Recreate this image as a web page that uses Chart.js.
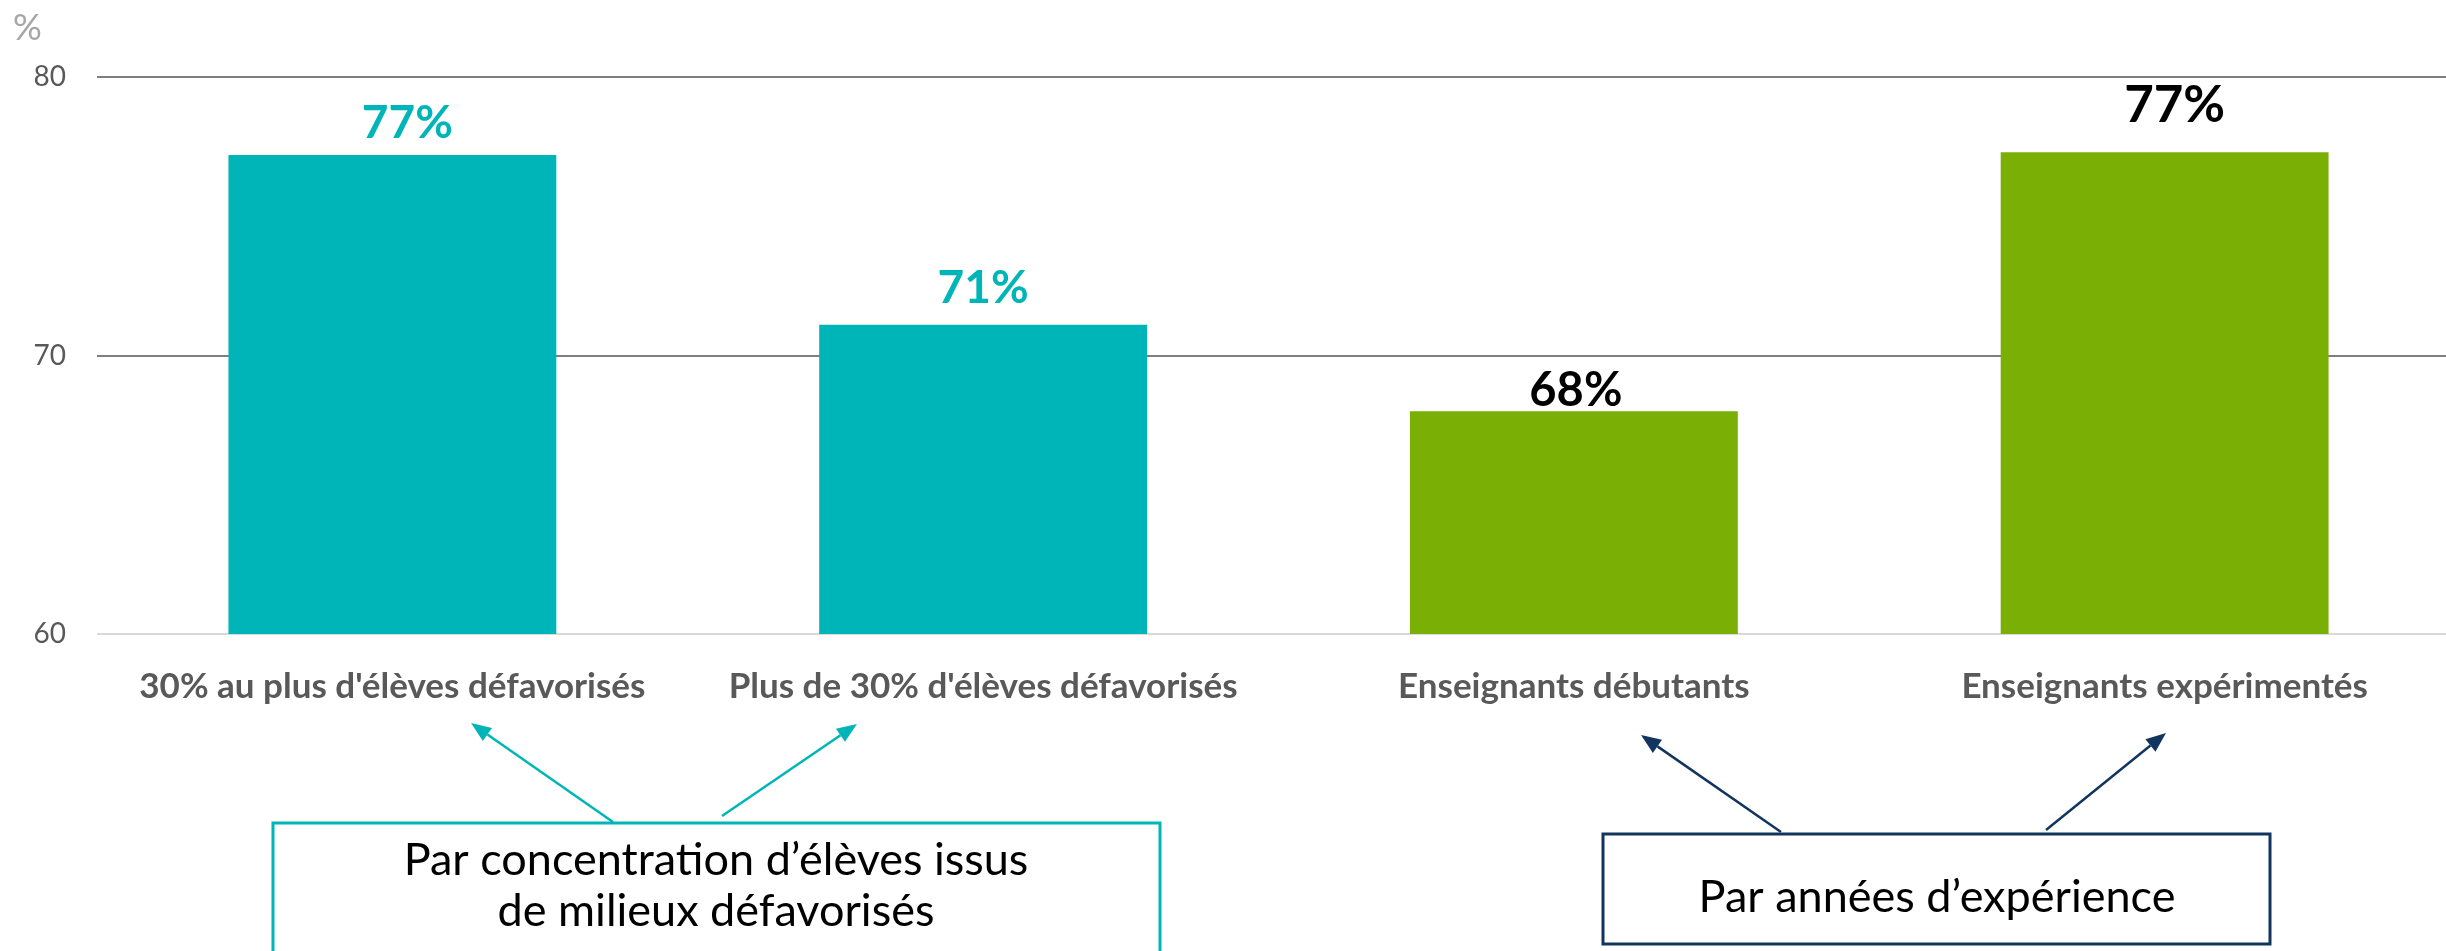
<!DOCTYPE html>
<html><head><meta charset="utf-8">
<script src="https://cdn.jsdelivr.net/npm/chart.js@4.4.1/dist/chart.umd.min.js"></script>
<style>
html,body{margin:0;padding:0;background:#fff;overflow:hidden;}
#wrap{position:relative;width:2460px;height:951px;}
</style></head>
<body><div id="wrap"><canvas id="c" width="2460" height="951"></canvas></div>
<script>
// ---- data ----
const categories = ["30% au plus d'élèves défavorisés", "Plus de 30% d'élèves défavorisés", "Enseignants débutants", "Enseignants expérimentés"];
const values = [77.2, 71.1, 68.0, 77.3];
const yTicks = [60, 70, 80];
const yUnit = "%";
const groupBoxTexts = [["Par concentration d’élèves issus", "de milieux défavorisés"], ["Par années d’expérience"]];

// ---- styles ----
const TEAL = '#00B5B8', GREEN = '#7AAF05', NAVY = '#12355F';
const barColors = [TEAL, TEAL, GREEN, GREEN];
const labelColors = [TEAL, TEAL, '#000000', '#000000'];
const labelSizes = [46, 46, 47, 51];
const labelGaps = [17, 22, 5, 30];
const labelShifts = [15, 0, 2, 10];
const FONT = 'Lato, "Open Sans", sans-serif';

const annotations = {
  boxes: [
    {x: 273, y: 823, w: 887, h: 160, color: TEAL, lines: 0, textX: 716, baselines: [875, 926], size: 45},
    {x: 1603, y: 834, w: 667, h: 110, color: NAVY, lines: 1, textX: 1937, baselines: [912], size: 45}
  ],
  arrows: [
    {from: [613, 822], to: [471, 723], color: TEAL},
    {from: [722, 816], to: [857, 724], color: TEAL},
    {from: [1781, 832], to: [1641, 735], color: NAVY},
    {from: [2046, 830], to: [2166, 733], color: NAVY}
  ]
};

function drawArrow(ctx, a) {
  const [x1, y1] = a.from, [x2, y2] = a.to;
  const ang = Math.atan2(y2 - y1, x2 - x1);
  const hl = 20, hw = 8;
  const bx = x2 - hl * Math.cos(ang), by = y2 - hl * Math.sin(ang);
  ctx.save();
  ctx.strokeStyle = a.color; ctx.fillStyle = a.color; ctx.lineWidth = 2.5;
  ctx.beginPath(); ctx.moveTo(x1, y1); ctx.lineTo(bx, by); ctx.stroke();
  ctx.beginPath();
  ctx.moveTo(x2, y2);
  ctx.lineTo(bx + hw * Math.sin(ang), by - hw * Math.cos(ang));
  ctx.lineTo(bx - hw * Math.sin(ang), by + hw * Math.cos(ang));
  ctx.closePath(); ctx.fill();
  ctx.restore();
}

const overlay = {
  id: 'overlay',
  afterDraw(chart) {
    const ctx = chart.ctx;
    ctx.save();
    // unit
    ctx.font = `36px ${FONT}`; ctx.fillStyle = '#A6A6A6';
    ctx.textAlign = 'left'; ctx.textBaseline = 'alphabetic';
    ctx.fillText(yUnit, 13, 40);
    // value labels
    const meta = chart.getDatasetMeta(0);
    meta.data.forEach((bar, i) => {
      ctx.font = `bold ${labelSizes[i]}px ${FONT}`;
      ctx.fillStyle = labelColors[i];
      ctx.textAlign = 'center';
      ctx.fillText(Math.round(values[i]) + '%', bar.x + labelShifts[i], bar.y - labelGaps[i]);
    });
    // arrows
    annotations.arrows.forEach(a => drawArrow(ctx, a));
    // boxes
    annotations.boxes.forEach(b => {
      ctx.fillStyle = '#fff';
      ctx.fillRect(b.x, b.y, b.w, b.h);
      ctx.strokeStyle = b.color; ctx.lineWidth = 3;
      ctx.strokeRect(b.x, b.y, b.w, b.h);
      ctx.fillStyle = '#000';
      ctx.font = `${b.size}px ${FONT}`;
      ctx.textAlign = 'center';
      groupBoxTexts[b.lines].forEach((t, k) => ctx.fillText(t, b.textX, b.baselines[k]));
    });
    ctx.restore();
  }
};

new Chart(document.getElementById('c'), {
  type: 'bar',
  data: {
    labels: categories,
    datasets: [{data: values, backgroundColor: barColors, barPercentage: 0.555, categoryPercentage: 1, borderWidth: 0}]
  },
  options: {
    responsive: false, animation: false,
    layout: {padding: {top: 77, left: 0, right: 0, bottom: 0}},
    plugins: {legend: {display: false}, tooltip: {enabled: false}},
    scales: {
      x: {
        grid: {display: false}, border: {display: false},
        ticks: {color: '#595959', font: {family: FONT, size: 35, weight: 'bold'}, padding: 24, maxRotation: 0, autoSkip: false},
        afterFit: axis => { axis.height = 317; }
      },
      y: {
        min: 60, max: 80,
        afterBuildTicks: s => { s.ticks = yTicks.map(v => ({value: v})); },
        grid: {color: c => (c.tick && c.tick.value === 60) ? '#D9D9D9' : '#7F7F7F', lineWidth: 2, drawTicks: false},
        border: {display: false},
        ticks: {color: '#595959', font: {family: FONT, size: 28}, padding: 31},
        afterFit: axis => { axis.width = 97; }
      }
    }
  },
  plugins: [overlay]
});
</script>
</body></html>
